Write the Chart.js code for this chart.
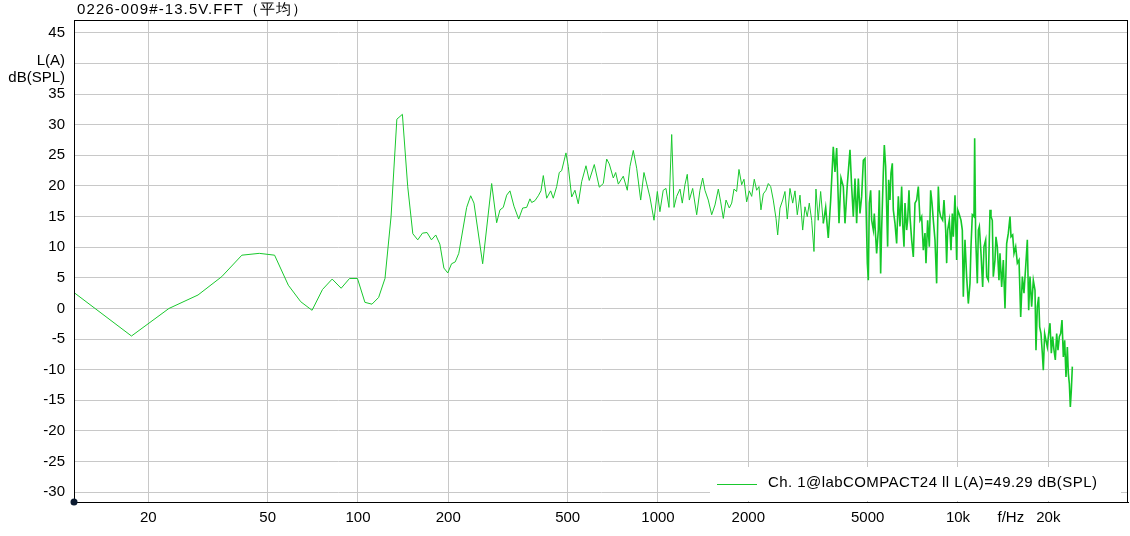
<!DOCTYPE html>
<html>
<head>
<meta charset="utf-8">
<script src="https://cdn.jsdelivr.net/npm/chart.js@4.4.1/dist/chart.umd.min.js"></script>
<style>
html,body{margin:0;padding:0;background:#fff;}
#wrap{width:1130px;height:536px;position:relative;}
</style>
</head>
<body>
<div id="wrap"><canvas id="c" width="1130" height="536"></canvas></div>
<script>
// ---- data ----
const titleText = '0226-009#-13.5V.FFT（平均）';
const legendText = 'Ch. 1@labCOMPACT24 ll L(A)=49.29 dB(SPL)';
const yUnitLabel = ['L(A)', 'dB(SPL)'];
const xTickValues = [20, 50, 100, 200, 500, 1000, 2000, 5000, 10000, 15000, 20000];
const xTickLabels = ['20', '50', '100', '200', '500', '1000', '2000', '5000', '10k', 'f/Hz', '20k'];
const yTickValues = [-30, -25, -20, -15, -10, -5, 0, 5, 10, 15, 20, 25, 30, 35, 40, 45];
const yTickLabels = ['-30', '-25', '-20', '-15', '-10', '-5', '0', '5', '10', '15', '20', '25', '30', '35', '', '45'];

const freqHz = [
  11.31, 17.58, 23.44, 29.30, 35.16, 41.02, 46.88, 52.73, 58.59, 64.45,
  70.31, 76.17, 82.03, 87.89, 93.75, 99.61, 105.47, 111.33, 117.19, 123.05,
  128.91, 134.77, 140.63, 146.48, 152.34, 158.20, 164.06, 169.92, 175.78, 181.64,
  187.50, 193.36, 199.22, 205.08, 210.94, 216.80, 230.3, 237.5, 243.6, 260.4,
  279.0, 289.9, 297.4, 305.0, 313.1, 321.1, 331.1, 343.3, 354.0, 365.0,
  374.3, 379.3, 389.0, 399.0, 407.4, 414.7, 425.6, 438.8, 447.7, 459.5,
  468.8, 477.5, 493.5, 502.3, 515.6, 528.8, 542.3, 556.7, 575.4, 590.2,
  613.3, 637.3, 657.2, 674.5, 688.1, 709.6, 722.8, 737.4, 766.1, 790.1,
  806.6, 827.4, 849.2, 875.6, 898.1, 940, 970, 995, 1015, 1041,
  1063, 1088, 1111, 1131, 1154, 1184, 1205, 1230, 1252, 1272,
  1305, 1346, 1380, 1409, 1434, 1471, 1510, 1549, 1589, 1618,
  1651, 1686, 1729, 1761, 1792, 1829, 1862, 1901, 1935, 1975,
  2015, 2053, 2094, 2133, 2171, 2204, 2244, 2291, 2332, 2375,
  2423, 2474, 2506, 2551, 2604, 2650, 2698, 2754, 2812, 2862,
  2913, 2974, 3036, 3090, 3145, 3194, 3253, 3311, 3362, 3421,
  3485, 3556, 3622, 3695, 3764, 3840, 3890, 3941, 4012, 4074,
  4147, 4201, 4276,
  4365, 4421, 4478, 4536, 4594, 4654, 4713, 4774, 4836, 4898,
  4935, 4987, 5025, 5063, 5115, 5155, 5221, 5261, 5316, 5356,
  5425, 5467, 5523, 5565, 5637, 5681, 5739, 5783, 5828, 5872,
  5934, 5979, 6041, 6087, 6166, 6245, 6326, 6407, 6490, 6540,
  6607, 6658, 6743, 6795, 6865, 6918, 7007, 7097, 7189, 7281,
  7375, 7470, 7566, 7664, 7762, 7822, 7923, 8025, 8108, 8192,
  8275, 8381, 8489, 8599, 8665, 8754, 8889, 8981, 9097, 9167,
  9238, 9356, 9477, 9574, 9648, 9772, 9898, 9974, 10077, 10232,
  10338, 10417, 10551, 10687, 10825, 10964, 11049, 11163, 11307, 11365,
  11452, 11600, 11690, 11780, 11931, 12085, 12209, 12367, 12462, 12623,
  12786, 12882, 13012, 13113, 13282, 13384, 13522, 13696, 13803, 13981,
  14161, 14344, 14529, 14716, 14906, 15021, 15214, 15371, 15569, 15770,
  15973, 16179, 16388, 16595, 16810, 17027, 17202, 17378, 17601, 17828,
  18058, 18196, 18383, 18572, 18715, 18907, 19102, 19249, 19447, 19648,
  19850, 20054, 20261, 20469, 20680, 20892, 21108, 21325, 21545, 21766,
  21990, 22217, 22446, 22677, 22908, 23146, 23324, 23504, 23685, 23868,
  24051
];
const levelDb = [
  2.6, -4.5, 0.0, 2.2, 5.2, 8.7, 9.0, 8.7, 3.8, 1.1,
  -0.3, 3.1, 4.8, 3.3, 4.9, 4.9, 1.0, 0.7, 1.8, 4.9,
  15.0, 30.9, 31.7, 19.9, 12.2, 11.2, 12.3, 12.4, 11.2, 12.0,
  10.5, 6.6, 5.8, 7.3, 7.6, 9.0, 16.5, 18.4, 17.2, 7.3,
  20.4, 14.0, 16.1, 16.5, 18.5, 19.2, 16.7, 14.6, 16.4, 16.5,
  17.9, 17.3, 17.6, 18.4, 19.2, 21.7, 18.0, 19.2, 18.0, 19.9,
  22.2, 22.5, 25.4, 23.2, 18.2, 19.3, 17.1, 20.7, 23.3, 20.9,
  23.5, 19.8, 20.4, 24.4, 23.6, 21.3, 22.2, 20.3, 21.6, 19.3,
  23.2, 25.8, 22.9, 17.7, 22.2, 18.2, 14.4, 19.1, 15.8, 19.3,
  19.6, 16.5, 28.4, 16.5, 18.3, 19.5, 17.2, 20.2, 21.9, 17.7,
  19.6, 15.3, 19.3, 21.3, 19.3, 17.7, 15.3, 16.9, 19.5, 17.4,
  14.7, 17.7, 16.4, 17.2, 19.5, 19.1, 22.7, 20.2, 21.1, 17.4,
  19.2, 18.3, 21.1, 19.3, 19.9, 16.1, 18.7, 19.3, 20.4, 19.9,
  17.7, 14.7, 12.0, 16.4, 17.7, 19.1, 14.6, 19.6, 17.2, 19.2,
  15.3, 18.5, 12.8, 16.6, 15.0, 17.2, 14.4, 9.3, 19.5, 14.4,
  19.1, 13.9, 16.5, 11.5, 17.7, 26.4, 22.3, 26.2, 13.9, 21.3,
  19.9, 13.9, 20.2,
  25.9, 19.9, 15.0, 21.2, 13.9, 21.2, 15.5, 18.3, 24.2, 24.5,
  17.2, 7.4, 4.6, 17.2, 19.3, 14.4, 12.8, 15.5, 11.7, 9.0,
  12.8, 19.3, 5.7, 12.8, 22.1, 26.7, 23.2, 16.6, 10.1, 21.0,
  17.7, 22.1, 23.7, 16.1, 13.9, 10.6, 18.3, 13.4, 19.9, 13.9,
  10.1, 17.2, 12.8, 14.4, 19.3, 15.0, 11.2, 8.4, 17.2, 17.7,
  19.9, 14.4, 15.0, 9.5, 12.3, 7.4, 14.4, 10.1, 19.3, 17.2,
  14.4, 11.2, 4.1, 19.9, 16.1, 15.0, 14.4, 17.7, 12.8, 7.4,
  12.8, 14.4, 9.5, 15.5, 11.7, 18.5, 7.9, 16.1, 15.5, 14.4,
  12.8, 1.9, 11.2, 5.2, 0.8, 4.1, 10.1, 15.3, 15.0, 27.8,
  11.7, 4.1, 12.8, 13.4, 9.0, 3.5, 10.1, 11.2, 5.2, 4.6,
  16.1, 15.0, 14.4, 5.2, 7.9, 11.7, 10.1, 4.6, 9.0, 3.5,
  7.9, 0.0, 10.6, 12.3, 15.0, 11.7, 12.0, 9.0, 10.1, 7.4,
  7.9, -1.4, 5.2, 2.5, 6.8, 11.2, -0.3, 5.2, 0.3, 4.6,
  3.0, -6.8, 0.3, 1.9, -3.0, -4.1, -7.3, -10.1, -4.1, -5.2,
  -6.3, -4.1, -2.4, -7.3, -4.6, -6.8, -8.4, -4.1, -6.8, -4.6,
  -4.1, -1.9, -7.9, -5.2, -11.2, -6.3, -10.6, -12.3, -16.1, -13.3,
  -9.5
];

// ---- chart ----
const FONT = '"Liberation Sans", Arial, sans-serif';
const LINE = 'rgb(25,200,45)';
const points = freqHz.map((f, i) => ({x: f, y: levelDb[i]}));

const decor = {
  id: 'decor',
  afterDraw(chart) {
    const ctx = chart.ctx;
    const a = chart.chartArea;
    const ys = chart.scales.y;
    ctx.save();
    // frame
    ctx.strokeStyle = '#000';
    ctx.lineWidth = 1;
    ctx.strokeRect(Math.round(a.left) + 0.5, Math.round(a.top) + 0.5,
      Math.round(a.right - a.left) - 1, Math.round(a.bottom - a.top));
    // title
    ctx.fillStyle = '#000';
    ctx.font = '15px ' + FONT;
    ctx.textAlign = 'left';
    ctx.textBaseline = 'alphabetic';
    ctx.letterSpacing = '1.1px';
    ctx.fillText(titleText, 77, 14);
    ctx.letterSpacing = '0px';
    // unit label at 40
    const y40 = ys.getPixelForValue(40);
    ctx.textAlign = 'right';
    ctx.fillText(yUnitLabel[0], 65, y40 + 2);
    ctx.fillText(yUnitLabel[1], 65, y40 + 19);
    // legend box
    ctx.fillStyle = '#fff';
    ctx.fillRect(710, a.bottom - 35, 411, 34);
    ctx.strokeStyle = LINE;
    ctx.beginPath();
    ctx.moveTo(717, a.bottom - 17.5);
    ctx.lineTo(757, a.bottom - 17.5);
    ctx.stroke();
    ctx.fillStyle = '#000';
    ctx.textAlign = 'left';
    ctx.letterSpacing = '0.43px';
    ctx.fillText(legendText, 768, a.bottom - 15);
    ctx.letterSpacing = '0px';
    // origin dot
    ctx.fillStyle = '#0b1a30';
    ctx.beginPath();
    ctx.arc(a.left, a.bottom, 3.5, 0, Math.PI * 2);
    ctx.fill();
    ctx.restore();
  }
};

new Chart(document.getElementById('c'), {
  type: 'line',
  data: {
    datasets: [{
      data: points,
      borderColor: LINE,
      borderWidth: 1,
      pointRadius: 0,
      tension: 0,
      fill: false,
      segment: {
        borderWidth: c => (c.p0.parsed.x > 3500 ? 1.6 : 1),
        borderColor: c => (c.p0.parsed.x > 3500 ? 'rgb(20,200,40)' : LINE)
      }
    }]
  },
  options: {
    responsive: false,
    animation: false,
    layout: {padding: {top: 20, right: 2, left: 0, bottom: 0}},
    plugins: {legend: {display: false}, tooltip: {enabled: false}, title: {display: false}},
    scales: {
      x: {
        type: 'logarithmic',
        min: 11.31,
        max: 36870,
        afterFit(s) { s.height = 34; },
        afterBuildTicks(s) { s.ticks = xTickValues.map(v => ({value: v})); },
        grid: {
          color: ctx => (ctx.tick && ctx.tick.value === 15000) ? 'rgba(0,0,0,0)' : '#c8c8c8',
          drawTicks: false,
          lineWidth: 1
        },
        border: {display: true, color: '#000', width: 1},
        ticks: {
          autoSkip: false,
          maxRotation: 0,
          padding: 7,
          color: '#000',
          font: {family: FONT, size: 15},
          callback: (v, i) => xTickLabels[i]
        }
      },
      y: {
        type: 'linear',
        min: -31.6,
        max: 47.1,
        afterFit(s) { s.width = 74; },
        afterBuildTicks(s) { s.ticks = yTickValues.map(v => ({value: v})); },
        grid: {color: '#c8c8c8', drawTicks: false, lineWidth: 1},
        border: {display: true, color: '#000', width: 1},
        ticks: {
          autoSkip: false,
          padding: 9,
          color: '#000',
          font: {family: FONT, size: 15},
          callback: (v, i) => yTickLabels[i]
        }
      }
    }
  },
  plugins: [decor]
});
</script>
</body>
</html>
